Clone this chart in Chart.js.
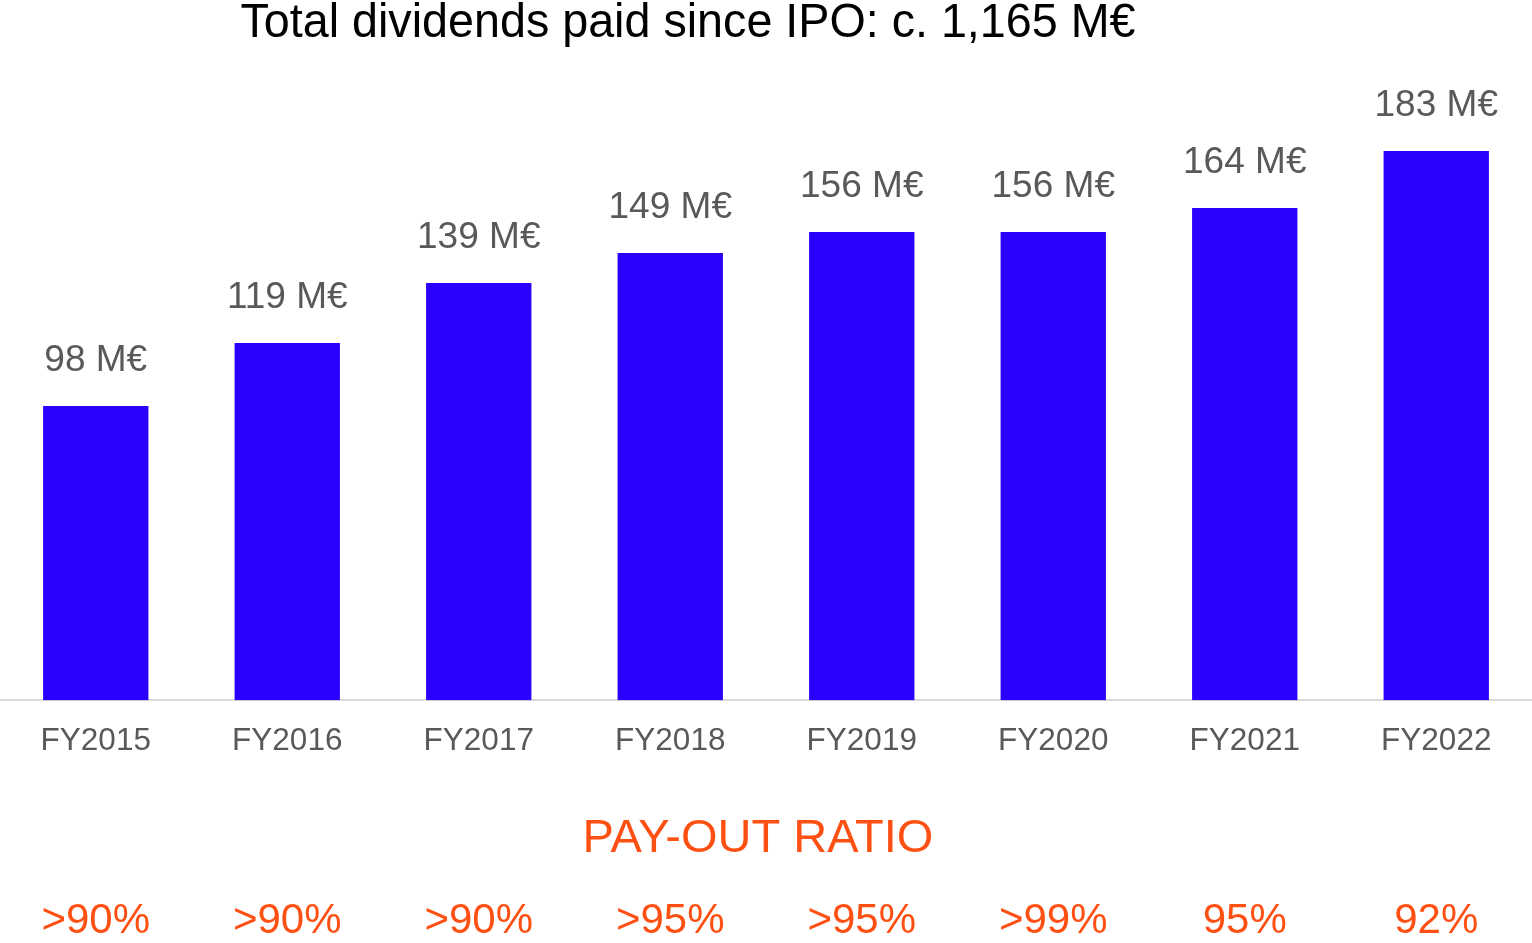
<!DOCTYPE html>
<html>
<head>
<meta charset="utf-8">
<script src="https://cdn.jsdelivr.net/npm/chart.js@4"></script>
<style>
  html, body { margin: 0; padding: 0; background: #fff; }
  #wrap { width: 1532px; height: 943px; position: relative; }
</style>
</head>
<body>
<div id="wrap"><canvas id="chart"></canvas></div>
<script>
// Dividends paid per fiscal year (M€) and pay-out ratio
const years     = ["FY2015", "FY2016", "FY2017", "FY2018", "FY2019", "FY2020", "FY2021", "FY2022"];
const dividends = [98, 119, 139, 149, 156, 156, 164, 183];
const payout    = [">90%", ">90%", ">90%", ">95%", ">95%", ">99%", "95%", "92%"];
const titleText = "Total dividends paid since IPO: c. 1,165 M€";

const COLORS = {
  bar:    "#2B00FF",
  label:  "#595959",
  axis:   "#D9D9D9",
  orange: "#FF5014",
  title:  "#000000",
};
const FONT = "'Liberation Sans', Arial, sans-serif";

// title: slightly condensed, like the original slide
const slideTitle = {
  id: "slideTitle",
  afterDraw(chart) {
    const ctx = chart.ctx;
    ctx.save();
    ctx.font = `48px ${FONT}`;
    ctx.fillStyle = COLORS.title;
    ctx.textAlign = "center";
    ctx.textBaseline = "middle";
    const w = ctx.measureText(titleText).width;
    const sx = 895 / w;
    ctx.translate(688, 24);
    ctx.scale(sx, 1);
    ctx.fillText(titleText, 0, 0);
    ctx.restore();
  },
};

// value labels above each bar
const barLabels = {
  id: "barLabels",
  afterDatasetsDraw(chart) {
    const ctx = chart.ctx;
    const meta = chart.getDatasetMeta(0);
    ctx.save();
    ctx.font = `37px ${FONT}`;
    ctx.fillStyle = COLORS.label;
    ctx.textAlign = "center";
    ctx.textBaseline = "middle";
    meta.data.forEach((bar, i) => {
      ctx.fillText(`${dividends[i]} M€`, bar.x, bar.y - 45);
    });
    ctx.restore();
  },
};

// pay-out ratio row under the axis
const payoutRow = {
  id: "payoutRow",
  afterDraw(chart) {
    const ctx = chart.ctx;
    const x = chart.scales.x;
    ctx.save();
    ctx.fillStyle = COLORS.orange;
    ctx.textAlign = "center";
    ctx.textBaseline = "middle";
    ctx.font = `47px ${FONT}`;
    ctx.fillText("PAY-OUT RATIO", 758, 839);
    ctx.font = `42px ${FONT}`;
    payout.forEach((p, i) => {
      ctx.fillText(p, x.getPixelForValue(i), 921);
    });
    ctx.restore();
  },
};

new Chart(document.getElementById("chart"), {
  type: "bar",
  data: {
    labels: years,
    datasets: [{
      data: dividends,
      backgroundColor: COLORS.bar,
      borderWidth: 0,
      categoryPercentage: 1,
      barPercentage: 0.55,
    }],
  },
  options: {
    responsive: true,
    maintainAspectRatio: false,
    animation: false,
    layout: { padding: { top: 82, left: 0, right: 0, bottom: 161 } },
    plugins: {
      legend: { display: false },
      tooltip: { enabled: false },
      title: { display: false },
    },
    scales: {
      x: {
        grid: { display: false, drawTicks: false },
        border: { color: COLORS.axis, width: 2 },
        ticks: {
          color: COLORS.label,
          font: { family: FONT, size: 31.5 },
          padding: 22,
        },
      },
      y: {
        display: false,
        min: 0,
        max: 206,
      },
    },
  },
  plugins: [slideTitle, barLabels, payoutRow],
});
</script>
</body>
</html>
